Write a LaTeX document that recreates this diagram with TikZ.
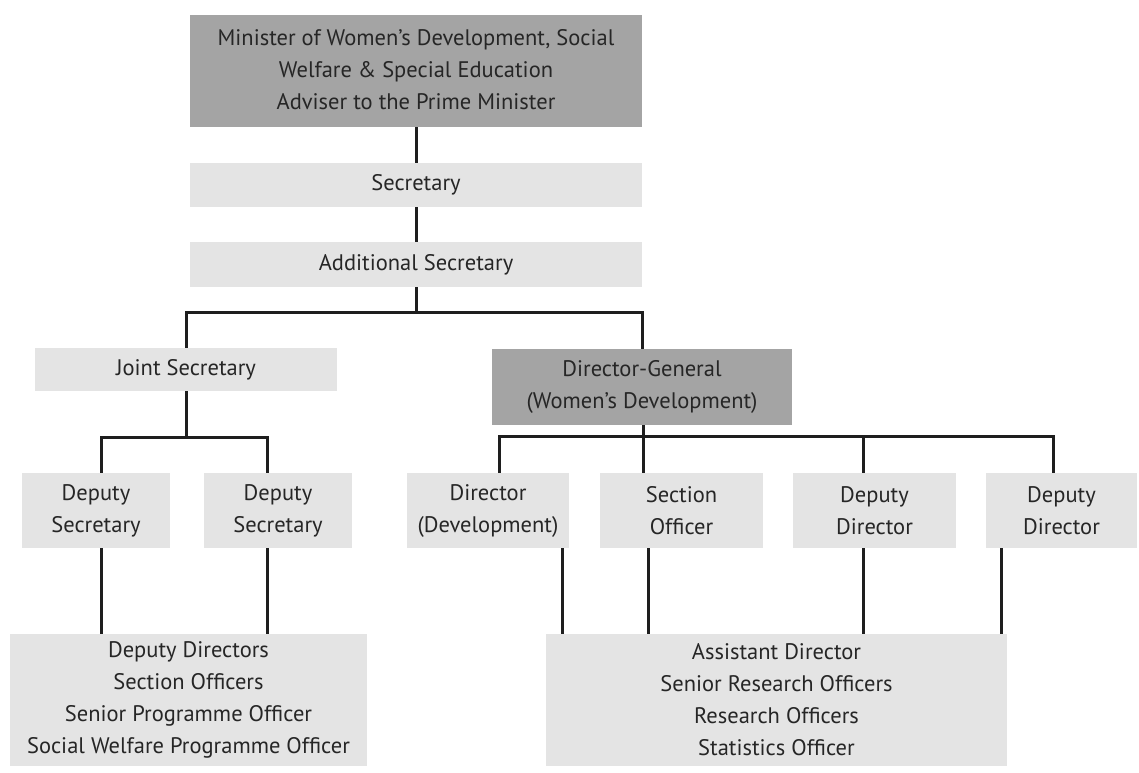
\documentclass[tikz,border=0pt]{standalone}
\usepackage{fontspec}
\setmainfont{PT Sans}
\definecolor{darkbox}{HTML}{A4A4A4}
\definecolor{lightbox}{HTML}{E4E4E4}
\definecolor{txt}{HTML}{262626}
\definecolor{ln}{HTML}{1E1E1E}
\begin{document}
\begin{tikzpicture}[x=1pt,y=-1pt,
  box/.style={rectangle, inner sep=0pt, align=center, text=txt,
    font=\fontsize{22.5}{32}\selectfont},
  dbox/.style={box, fill=darkbox},
  lbox/.style={box, fill=lightbox},
  conn/.style={draw=ln, line width=3pt}]
\fill[white] (0,0) rectangle (1139,772);
\useasboundingbox (0,0) rectangle (1139,772);

% boxes
\node[dbox, minimum width=452pt, minimum height=112pt] (min) at (416,71)
  {\raisebox{4pt}{\begin{tabular}{@{}c@{}}Minister of Women’s Development, Social\\Welfare \& Special Education\\Adviser to the Prime Minister\end{tabular}}};
\node[lbox, minimum width=452pt, minimum height=44pt] (sec) at (416,185) {Secretary};
\node[lbox, minimum width=452pt, minimum height=45pt] (asec) at (416,264.5) {Additional Secretary};
\node[lbox, minimum width=302pt, minimum height=43pt] (js) at (186,369.5) {Joint Secretary};
\node[dbox, minimum width=300pt, minimum height=76pt] (dg) at (642,387) {Director-General\\(Women’s Development)};

\node[lbox, minimum width=148pt, minimum height=75pt] (ds1) at (96,510.5) {Deputy\\Secretary};
\node[lbox, minimum width=148pt, minimum height=75pt] (ds2) at (278,510.5) {Deputy\\Secretary};

\node[lbox, minimum width=162pt, minimum height=75pt] (dd) at (488,510.5) {Director\\(Development)};
\node[lbox, minimum width=163pt, minimum height=75pt] (so) at (681.5,510.5) {Section\\Officer};
\node[lbox, minimum width=163pt, minimum height=75pt] (dpd1) at (874.5,510.5) {Deputy\\Director};
\node[lbox, minimum width=151pt, minimum height=75pt] (dpd2) at (1061.5,510.5) {Deputy\\Director};

\node[lbox, minimum width=357pt, minimum height=132pt] (bl) at (188.5,700)
  {Deputy Directors\\Section Officers\\Senior Programme Officer\\Social Welfare Programme Officer};
\node[lbox, minimum width=461pt, minimum height=132pt] (br) at (776.5,700)
  {Assistant Director\\Senior Research Officers\\Research Officers\\Statistics Officer};

% helper coordinates
\coordinate (b1) at (416,312);
\coordinate (b2) at (186,437);
\coordinate (b3) at (643,436);
\coordinate (x101) at (101,0);
\coordinate (x267) at (267,0);
\coordinate (x499) at (499,0);
\coordinate (x562) at (562,0);
\coordinate (x648) at (648,0);
\coordinate (x863) at (863,0);
\coordinate (x1001) at (1001,0);
\coordinate (x1053) at (1053,0);

% connectors
\draw[conn] (min.south) -- (sec.north);
\draw[conn] (sec.south) -- (asec.north);
\draw[conn] (asec.south) -- (b1);
\draw[conn] (js.north) |- (b1) -| (dg.north);

\draw[conn] (js.south) -- (b2);
\draw[conn] (ds1.north -| x101) |- (b2) -| (ds2.north -| x267);

\draw[conn] (dg.south -| b3) -- (b3);
\draw[conn] (dd.north -| x499) |- (b3) -| (dpd2.north -| x1053);
\draw[conn] (b3) -- (so.north -| b3);
\draw[conn] (b3 -| x863) -- (dpd1.north -| x863);

\draw[conn] (ds1.south -| x101) -- (bl.north -| x101);
\draw[conn] (ds2.south -| x267) -- (bl.north -| x267);

\draw[conn] (dd.south -| x562) -- (br.north -| x562);
\draw[conn] (so.south -| x648) -- (br.north -| x648);
\draw[conn] (dpd1.south -| x863) -- (br.north -| x863);
\draw[conn] (dpd2.south -| x1001) -- (br.north -| x1001);
\end{tikzpicture}
\end{document}
